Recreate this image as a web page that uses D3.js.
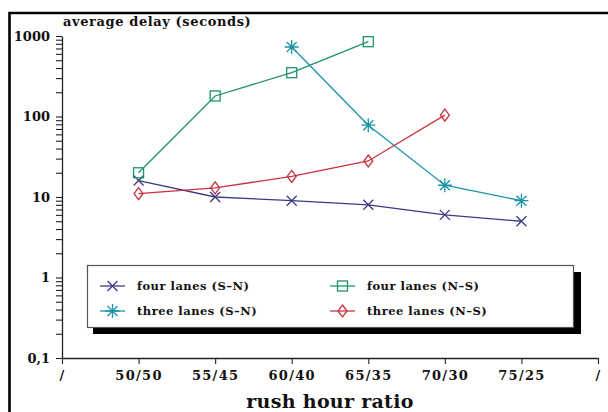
<!DOCTYPE html>
<html><head><meta charset="utf-8">
<script src="https://cdn.jsdelivr.net/npm/d3@7"></script>
<style>
body{margin:0;background:#fff;}
text{font-family:"DejaVu Serif",serif;font-weight:bold;fill:#111;}
</style></head>
<body>
<svg id="c" width="608" height="412"></svg>
<script>
const categories = ["/", "50/50", "55/45", "60/40", "65/35", "70/30", "75/25", "//"];
const tickLabels = ["/", "50/50", "55/45", "60/40", "65/35", "70/30", "75/25", "/"];
const fourSN = [ ["50/50",16], ["55/45",10], ["60/40",9], ["65/35",8], ["70/30",6], ["75/25",5] ];
const threeSN = [ ["60/40",730], ["65/35",78], ["70/30",14], ["75/25",9] ];
const fourNS = [ ["50/50",20], ["55/45",180], ["60/40",350], ["65/35",850] ];
const threeNS = [ ["50/50",11], ["55/45",13], ["60/40",18], ["65/35",28], ["70/30",104] ];
const yMajor = [0.1, 1, 10, 100, 1000];
const yMajorLabels = ["0,1", "1", "10", "100", "1000"];
const seriesNames = ["four lanes (S–N)", "three lanes (S–N)", "four lanes (N–S)", "three lanes (N–S)"];

const svg = d3.select("#c");
const x = d3.scalePoint().domain(categories).range([62, 598]);
const y = d3.scaleLog().domain([0.1, 1000]).range([358, 36]);

// frame
svg.append("path").attr("d","M9.5,412 V13 H608").attr("fill","none").attr("stroke","#000").attr("stroke-width",2.6);

// y ticks
const yTicks = [];
for (let k=-1;k<3;k++) for (let m=1;m<10;m++) yTicks.push(m*Math.pow(10,k));
yTicks.push(1000);
const yAxis = d3.axisLeft(y).tickValues(yTicks).tickSize(6).tickSizeOuter(0)
  .tickFormat(d => { const i = yMajor.findIndex(v => Math.abs(v-d)/d < 1e-6); return i>=0 ? yMajorLabels[i] : ""; });
const ga = svg.append("g").attr("transform","translate(62,0)").call(yAxis);
ga.select(".domain").attr("stroke","#222").attr("stroke-width",1.3);
ga.selectAll(".tick line").attr("stroke","#222").attr("stroke-width",1.1);
ga.selectAll(".tick text").attr("x",-12).attr("font-size",13).attr("font-family","DejaVu Serif").attr("font-weight","bold").attr("fill","#111");

// x axis
const xAxis = d3.axisBottom(x).tickSize(6).tickSizeOuter(0).tickFormat((d,i)=>tickLabels[i]);
const gx = svg.append("g").attr("transform","translate(0,358)").call(xAxis);
gx.select(".domain").attr("stroke","#222").attr("stroke-width",1.3);
gx.selectAll(".tick line").attr("stroke","#222").attr("stroke-width",1.1);
gx.selectAll(".tick text").attr("y",13).attr("font-size",13).attr("letter-spacing",1.3).attr("font-family","DejaVu Serif").attr("font-weight","bold").attr("fill","#111");

// titles
svg.append("text").attr("x",63).attr("y",26).attr("font-size",13).attr("letter-spacing",0.6).text("average delay (seconds)");
svg.append("text").attr("x",330).attr("y",408).attr("text-anchor","middle").attr("font-size",19).attr("letter-spacing",0.3).text("rush hour ratio");

// markers
const markers = {
  cross: (g) => g.append("path").attr("d","M-5,-5L5,5M-5,5L5,-5"),
  star: (g) => g.append("path").attr("d","M0,-7V7M-7,0H7M-5,-5L5,5M-5,5L5,-5"),
  square: (g) => g.append("rect").attr("x",-5).attr("y",-5).attr("width",10).attr("height",10),
  diamond: (g) => g.append("path").attr("d","M0,-6L4.5,0L0,6L-4.5,0Z")
};
const series = [
  {data: fourSN, color:"#3a3a86", m:"cross"},
  {data: threeSN, color:"#1b93a8", m:"star"},
  {data: fourNS, color:"#1e9566", m:"square"},
  {data: threeNS, color:"#c8323e", m:"diamond"}
];
const line = d3.line().x(d=>x(d[0])).y(d=>y(d[1]));
series.forEach(s => {
  svg.append("path").datum(s.data).attr("d",line).attr("fill","none").attr("stroke",s.color).attr("stroke-width",1.3);
  s.data.forEach(d => {
    const g = svg.append("g").attr("transform",`translate(${x(d[0])},${y(d[1])})`)
      .attr("fill","none").attr("stroke",s.color).attr("stroke-width",1.3);
    markers[s.m](g);
  });
});

// legend
const lg = svg.append("g");
lg.append("rect").attr("x",93).attr("y",272).attr("width",488).attr("height",62).attr("fill","#000");
lg.append("rect").attr("x",87.5).attr("y",265.5).attr("width",486).attr("height",62).attr("fill","#fff").attr("stroke","#555").attr("stroke-width",1.2);
const pos = [[100,286],[100,311],[330,286],[330,311]];
series.forEach((s,i) => {
  const [lx,ly] = pos[i];
  lg.append("line").attr("x1",lx).attr("x2",lx+25).attr("y1",ly).attr("y2",ly).attr("stroke",s.color).attr("stroke-width",1.3);
  const g = lg.append("g").attr("transform",`translate(${lx+12.5},${ly})`).attr("fill","none").attr("stroke",s.color).attr("stroke-width",1.3);
  markers[s.m](g);
  lg.append("text").attr("x",lx+37).attr("y",ly+4).attr("font-size",11.5).attr("letter-spacing",0.5).text(seriesNames[i]);
});
</script>
</body></html>
